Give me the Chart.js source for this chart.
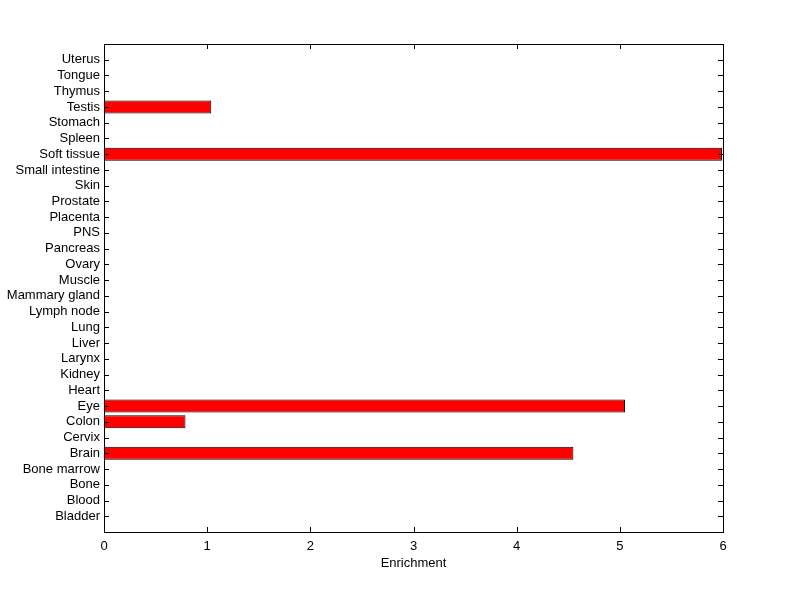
<!DOCTYPE html>
<html>

<head>
  <meta charset="utf-8">
  <title>Enrichment by tissue</title>
  <script src="https://cdnjs.cloudflare.com/ajax/libs/Chart.js/4.3.0/chart.umd.min.js"></script>
  <style>
    html,
    body {
      margin: 0;
      padding: 0;
      background: #fff;
    }

    canvas {
      display: block;
    }
  </style>
</head>

<body>
  <canvas id="chart" width="800" height="599"></canvas>
  <script>
    // categories listed bottom to top, as on the axis
    var tissues = ['Bladder', 'Blood', 'Bone', 'Bone marrow', 'Brain', 'Cervix', 'Colon', 'Eye', 'Heart',
      'Kidney', 'Larynx', 'Liver', 'Lung', 'Lymph node', 'Mammary gland', 'Muscle', 'Ovary', 'Pancreas',
      'PNS', 'Placenta', 'Prostate', 'Skin', 'Small intestine', 'Soft tissue', 'Spleen', 'Stomach',
      'Testis', 'Thymus', 'Tongue', 'Uterus'];
    var enrichment = [0, 0, 0, 0, 4.55, 0, 0.79, 5.05, 0,
      0, 0, 0, 0, 0, 0, 0, 0, 0,
      0, 0, 0, 0, 0, 5.99, 0, 0,
      1.04, 0, 0, 0];
    var xTicks = [0, 1, 2, 3, 4, 5, 6];

    var font = { family: '"Liberation Sans", Arial, sans-serif', size: 13 };

    // matlab style box with inward tick marks
    var boxPlugin = {
      id: 'box',
      afterDraw: function(chart) {
        var a = chart.chartArea, c = chart.ctx;
        var xs = chart.scales.x, ys = chart.scales.y;
        var len = 5;
        c.save();
        c.strokeStyle = '#000';
        c.lineWidth = 1;
        c.beginPath();
        xTicks.forEach(function(v) {
          var px = Math.round(xs.getPixelForValue(v)) + 0.5;
          c.moveTo(px, a.bottom); c.lineTo(px, a.bottom - len);
          c.moveTo(px, a.top); c.lineTo(px, a.top + len);
        });
        tissues.forEach(function(t, i) {
          var py = Math.round(ys.getPixelForValue(i + 1)) + 0.5;
          c.moveTo(a.left, py); c.lineTo(a.left + len, py);
          c.moveTo(a.right, py); c.lineTo(a.right - len, py);
        });
        c.stroke();
        c.strokeRect(Math.round(a.left) + 0.5, Math.round(a.top) + 0.5,
          Math.round(a.right - a.left), Math.round(a.bottom - a.top));
        c.restore();
      }
    };

    new Chart(document.getElementById('chart'), {
      type: 'bar',
      data: {
        datasets: [{
          label: 'Enrichment',
          data: tissues.map(function(t, i) { return { x: enrichment[i], y: i + 1 }; }),
          backgroundColor: '#ff0000',
          borderColor: '#000000',
          borderWidth: function(ctx) { return ctx.raw && ctx.raw.x ? 1 : 0; },
          borderSkipped: false,
          barPercentage: 0.82,
          categoryPercentage: 1
        }]
      },
      options: {
        indexAxis: 'y',
        responsive: false,
        animation: false,
        layout: { padding: { top: 44, right: 77, left: 0, bottom: 0 } },
        plugins: {
          legend: { display: false },
          tooltip: { enabled: false }
        },
        scales: {
          x: {
            type: 'linear',
            min: 0,
            max: 6,
            afterFit: function(s) { s.height = 67; },
            afterBuildTicks: function(s) { s.ticks = xTicks.map(function(v) { return { value: v }; }); },
            grid: { display: false, drawTicks: false },
            border: { display: false },
            ticks: { color: '#000', font: font, padding: 7 },
            title: { display: true, text: 'Enrichment', color: '#000', font: font, padding: { top: 0, bottom: 28 } }
          },
          y: {
            type: 'linear',
            offset: false,
            min: 0,
            max: tissues.length + 1,
            afterFit: function(s) { s.width = 104; },
            afterBuildTicks: function(s) { s.ticks = tissues.map(function(t, i) { return { value: i + 1 }; }); },
            grid: { display: false, drawTicks: false, offset: false },
            border: { display: false },
            ticks: {
              color: '#000',
              font: font,
              padding: 4,
              autoSkip: false,
              callback: function(v) { return tissues[v - 1] || ''; }
            }
          }
        }
      },
      plugins: [boxPlugin]
    });
  </script>
</body>

</html>
